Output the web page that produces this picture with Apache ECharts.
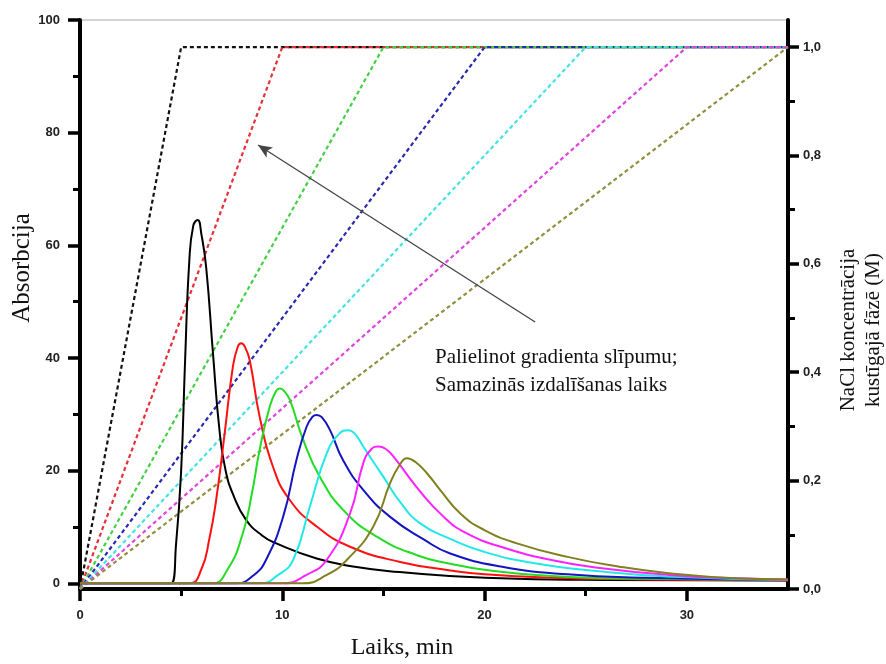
<!DOCTYPE html>
<html>
<head>
<meta charset="utf-8">
<title>Absorbcija</title>
<script src="https://cdn.jsdelivr.net/npm/echarts@6/dist/echarts.min.js"></script>
<style>
  html, body { margin: 0; padding: 0; background: #fff; }
  #chart { width: 886px; height: 664px; }
</style>
</head>
<body>
<div id="chart"></div>
<script>
// peak curves, [time min, absorbance]
const peakBlack = [[0,0],[4.5,0],[4.75,7],[5.0,20],[5.2,40],[5.4,57],[5.6,63.5],[5.82,64.5],[6.0,62],[6.24,56],[6.57,41],[6.9,27],[7.2,20],[7.6,15.5],[8.2,11.3],[9.0,8.5],[9.7,7.1],[11.7,4.4],[13.5,3.0],[15.8,2.0],[18.3,1.3],[21.6,0.8],[26,0.6],[35,0.5]]
const peakRed = [[0,0],[5.4,0],[6.0,2.5],[6.4,8],[6.73,14.8],[7.15,26.6],[7.56,38.5],[7.8,42],[7.97,42.6],[8.15,42],[8.39,39.6],[8.88,29.6],[9.54,20.7],[10.37,14.8],[11.7,10.1],[13.35,6.5],[15.83,3.8],[18.3,2.3],[20,1.6],[23.3,1.0],[28,0.7],[35,0.5]]
const peakGreen = [[0,0],[6.5,0],[7.3,2.5],[8.05,8.9],[8.5,16],[8.88,23.7],[9.38,31.4],[9.7,34.2],[9.88,34.6],[10.05,34.3],[10.37,32.6],[11.03,25.5],[11.86,18.9],[13.02,13.0],[14.67,8.3],[16.66,5.0],[18.3,3.5],[20,2.4],[23.3,1.3],[28,0.8],[35,0.6]]
const peakBlue = [[0,0],[7.7,0],[8.6,1.5],[9.2,4.2],[10.04,11.8],[10.7,21.9],[11.2,27.8],[11.5,29.6],[11.7,29.9],[11.95,29.5],[12.36,27.2],[13.0,21.9],[14.0,16.6],[15.33,11.8],[16.99,7.8],[18.3,5.3],[20.8,3.0],[24.1,1.6],[28,1.0],[35,0.6]]
const peakCyan = [[0,0],[8.9,0],[9.8,1.5],[10.54,4.2],[11.36,13.6],[12.2,23.1],[12.8,26.5],[13.27,27.2],[13.6,26.5],[14.0,24.3],[15.0,18.9],[15.83,14.4],[16.8,10.7],[18.3,7.9],[19.97,5.6],[22.4,3.6],[25.8,2.1],[29.1,1.2],[35,0.6]]
const peakMagenta = [[0,0],[10,0],[11.2,1.5],[12.2,4.2],[13.35,12.4],[14.0,21.3],[14.4,23.8],[14.75,24.3],[15.1,23.9],[15.5,22.5],[16.66,17.0],[17.98,11.8],[19.1,8.9],[20.8,6.5],[23.3,4.15],[25.8,2.7],[29.1,1.5],[32.4,0.9],[35,0.7]]
const peakOlive = [[0,0],[11.0,0],[12.2,1.5],[13.2,4.2],[14.5,10.1],[15.33,17.8],[15.8,21.0],[16.16,22.2],[16.6,21.5],[17.16,19.5],[17.8,16.6],[18.8,12.4],[19.97,9.5],[21.6,7.1],[24.1,4.7],[26.6,3.0],[29.1,1.8],[32.4,0.9],[35,0.7]]

// NaCl gradient: time when 1,0 M is reached
const gradientEnds = [5, 10, 15, 20, 25, 30, 35]
const gradientTop = 1.0
const timeMax = 35

const curveColors = ['#000000', '#ff1010', '#22dd22', '#1414c0', '#22e8e8', '#ff22ff', '#808020']
const dashColors = ['#111111', '#e8303a', '#44d044', '#2a2ab0', '#44e2e2', '#e044e0', '#909040']

// tick labels
const xTicks = [0, 10, 20, 30]
const xMinor = [5, 15, 25]
const leftTicks = [0, 20, 40, 60, 80, 100]
const leftMinor = [10, 30, 50, 70, 90]
const rightTicks = [0, 0.2, 0.4, 0.6, 0.8, 1.0]
const rightMinor = [0.1, 0.3, 0.5, 0.7, 0.9]

// arrow start / end in data coords
const arrowFrom = [22.5, 46.4]
const arrowTo = [8.8, 77.8]

const peaks = [peakBlack, peakRed, peakGreen, peakBlue, peakCyan, peakMagenta, peakOlive]

const box = echarts.init(document.getElementById('chart'))

const tickLabel = { fontFamily: 'Liberation Sans, Arial, sans-serif', fontWeight: 'bold', fontSize: 13, color: '#222' }

let series = []
// dashed gradient lines on the right axis
gradientEnds.forEach((t, i) => {
  series.push({
    type: 'line',
    xAxisIndex: 0,
    yAxisIndex: 1,
    symbol: 'none',
    silent: true,
    data: [[0, 0], [t, gradientTop], [timeMax, gradientTop]],
    lineStyle: { color: dashColors[i], width: 2.2, type: [4, 3] },
    z: 2
  })
})
// absorbance peaks
peaks.forEach((d, i) => {
  let s = {
    type: 'line',
    xAxisIndex: 0,
    yAxisIndex: 0,
    symbol: 'none',
    smooth: 0.5,
    silent: true,
    data: d,
    lineStyle: { color: curveColors[i], width: 2 },
    z: 3
  }
  if (i === 0) {
    s.markLine = {
      silent: true,
      symbol: ['none', 'arrow'],
      symbolSize: [9, 14],
      label: { show: false },
      lineStyle: { color: '#444', width: 1.3, type: 'solid' },
      data: [[{ coord: arrowFrom }, { coord: arrowTo }]]
    }
  }
  series.push(s)
})

const option = {
  animation: false,
  backgroundColor: '#fff',
  grid: { left: 80, right: 98, top: 20, bottom: 75, show: true, borderColor: '#aaa', borderWidth: 1 },
  xAxis: [
    {
      type: 'value', min: 0, max: timeMax, position: 'bottom',
      axisLine: { show: true, onZero: false, lineStyle: { color: '#000', width: 4 } },
      axisTick: { show: true, customValues: xTicks, length: 12, lineStyle: { color: '#000', width: 3.5 } },
      axisLabel: Object.assign({ customValues: xTicks, margin: 20 }, tickLabel),
      splitLine: { show: false }
    },
    {
      type: 'value', min: 0, max: timeMax, position: 'bottom',
      axisLine: { show: false, onZero: false },
      axisTick: { show: true, customValues: xMinor, length: 7, lineStyle: { color: '#000', width: 3 } },
      axisLabel: { show: false },
      splitLine: { show: false }
    }
  ],
  yAxis: [
    {
      type: 'value', min: -1, max: 100, position: 'left',
      axisLine: { show: true, onZero: false, lineStyle: { color: '#000', width: 4 } },
      axisTick: { show: true, customValues: leftTicks, length: 12, lineStyle: { color: '#000', width: 3.5 } },
      axisLabel: Object.assign({ customValues: leftTicks, margin: 20 }, tickLabel),
      splitLine: { show: false }
    },
    {
      type: 'value', min: 0, max: 1.05, position: 'right',
      axisLine: { show: true, onZero: false, lineStyle: { color: '#000', width: 4 } },
      axisTick: { show: true, customValues: rightTicks, length: 11, lineStyle: { color: '#000', width: 3.5 } },
      axisLabel: Object.assign({
        customValues: rightTicks, margin: 15,
        formatter: v => v.toFixed(1).replace('.', ',')
      }, tickLabel),
      splitLine: { show: false }
    },
    {
      type: 'value', min: -1, max: 100, position: 'left',
      axisLine: { show: false, onZero: false },
      axisTick: { show: true, customValues: leftMinor, length: 7, lineStyle: { color: '#000', width: 3 } },
      axisLabel: { show: false },
      splitLine: { show: false }
    },
    {
      type: 'value', min: 0, max: 1.05, position: 'right',
      axisLine: { show: false, onZero: false },
      axisTick: { show: true, customValues: rightMinor, length: 7, lineStyle: { color: '#000', width: 3 } },
      axisLabel: { show: false },
      splitLine: { show: false }
    }
  ],
  graphic: [
    {
      type: 'text', x: 22, y: 268, rotation: Math.PI / 2,
      style: { text: 'Absorbcija', font: '25px "Liberation Serif", "Times New Roman", serif', fill: '#111', textAlign: 'center', textVerticalAlign: 'middle' }
    },
    {
      type: 'text', x: 402, y: 648,
      style: { text: 'Laiks, min', font: '24px "Liberation Serif", "Times New Roman", serif', fill: '#111', textAlign: 'center', textVerticalAlign: 'middle' }
    },
    {
      type: 'text', x: 861, y: 330, rotation: Math.PI / 2,
      style: { text: 'NaCl koncentrācija\nkustīgajā fāzē (M)', font: '21px "Liberation Serif", "Times New Roman", serif', lineHeight: 25, fill: '#111', textAlign: 'center', textVerticalAlign: 'middle' }
    },
    {
      type: 'text', x: 435, y: 343,
      style: { text: 'Palielinot gradienta slīpumu;\nSamazinās izdalīšanas laiks', font: '21px "Liberation Serif", "Times New Roman", serif', lineHeight: 28, fill: '#111', textAlign: 'left', textVerticalAlign: 'top' }
    }
  ],
  series: series
}

box.setOption(option)
</script>
</body>
</html>
